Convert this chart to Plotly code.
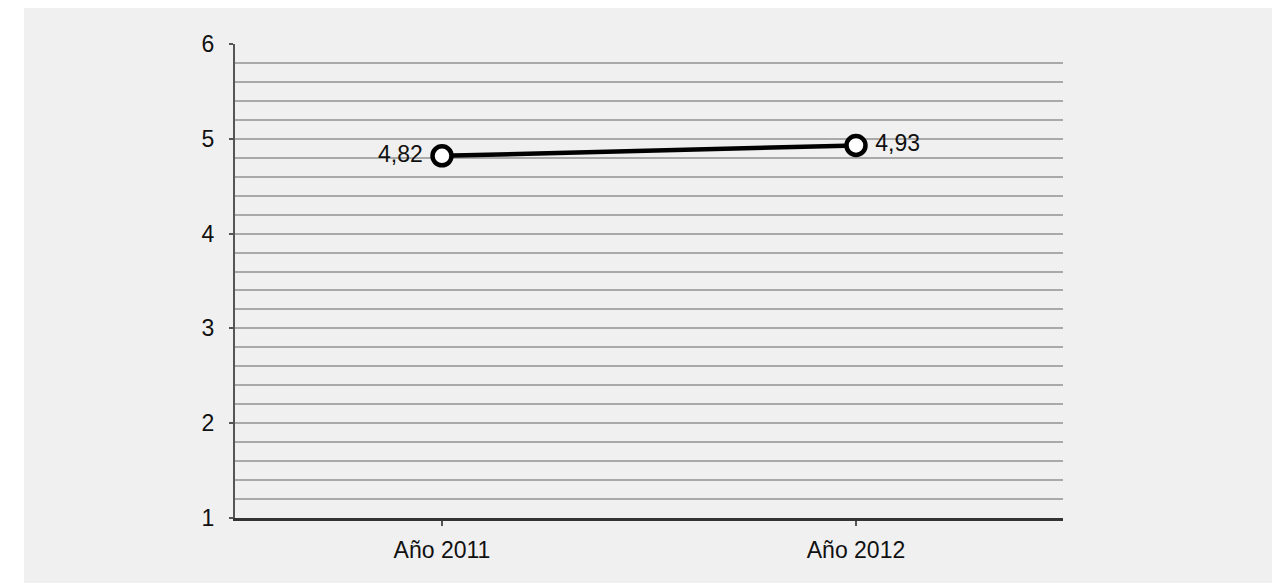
import plotly.graph_objects as go

categories = ["Año 2011", "Año 2012"]
values = [4.82, 4.93]
value_labels = ["4,82", "4,93"]
label_positions = ["middle left", "middle right"]
y_ticks = [1, 2, 3, 4, 5, 6]

# page body has an 8px margin; figure placed from (8,8)
W, H = 1264, 575
ml, mr, mt, mb = 227, 209, 36, 65
pw, ph = W - ml - mr, H - mt - mb

fig = go.Figure()
fig.add_trace(go.Scatter(
    x=categories, y=values,
    mode="lines+markers+text",
    text=[" " + t if p.endswith("right") else t + " " for t, p in zip(value_labels, label_positions)],
    textposition=label_positions,
    textfont=dict(family="Liberation Sans, Arial", size=23, color="#111111"),
    line=dict(color="#000000", width=4.5),
    marker=dict(symbol="circle", size=19, color="#ffffff",
                line=dict(color="#000000", width=4.5)),
    cliponaxis=False,
    showlegend=False,
))

bg = "#f0f0f0"
fig.update_layout(
    width=W, height=H,
    margin=dict(l=ml, r=mr, t=mt, b=mb),
    paper_bgcolor=bg,
    plot_bgcolor=bg,
    font=dict(family="Liberation Sans, Arial", size=23, color="#111111"),
    xaxis=dict(
        type="category", range=[-0.5, 1.5],
        showgrid=False, zeroline=False,
        showline=True, linecolor="#333333", linewidth=3,
        ticks="outside", ticklen=5, tickcolor="#555555", tickwidth=2,
        ticklabelstandoff=4,
        tickfont=dict(size=23),
    ),
    yaxis=dict(
        range=[1, 6], tickvals=y_ticks,
        showgrid=True, gridcolor="#a9a9a9", gridwidth=2,
        minor=dict(dtick=0.2, showgrid=True, gridcolor="#a9a9a9", gridwidth=2),
        zeroline=False,
        showline=True, linecolor="#555555", linewidth=2,
        ticks="outside", ticklen=4, tickcolor="#555555", tickwidth=2,
        ticklabelstandoff=10,
        tickfont=dict(size=23),
    ),
    shapes=[dict(
        type="rect", xref="paper", yref="paper", layer="below",
        x0=-ml / pw, x1=(16 - ml) / pw,
        y0=-mb / ph, y1=1 + mt / ph,
        fillcolor="#ffffff", line=dict(width=0),
    )],
)

fig.write_html("out.html")
